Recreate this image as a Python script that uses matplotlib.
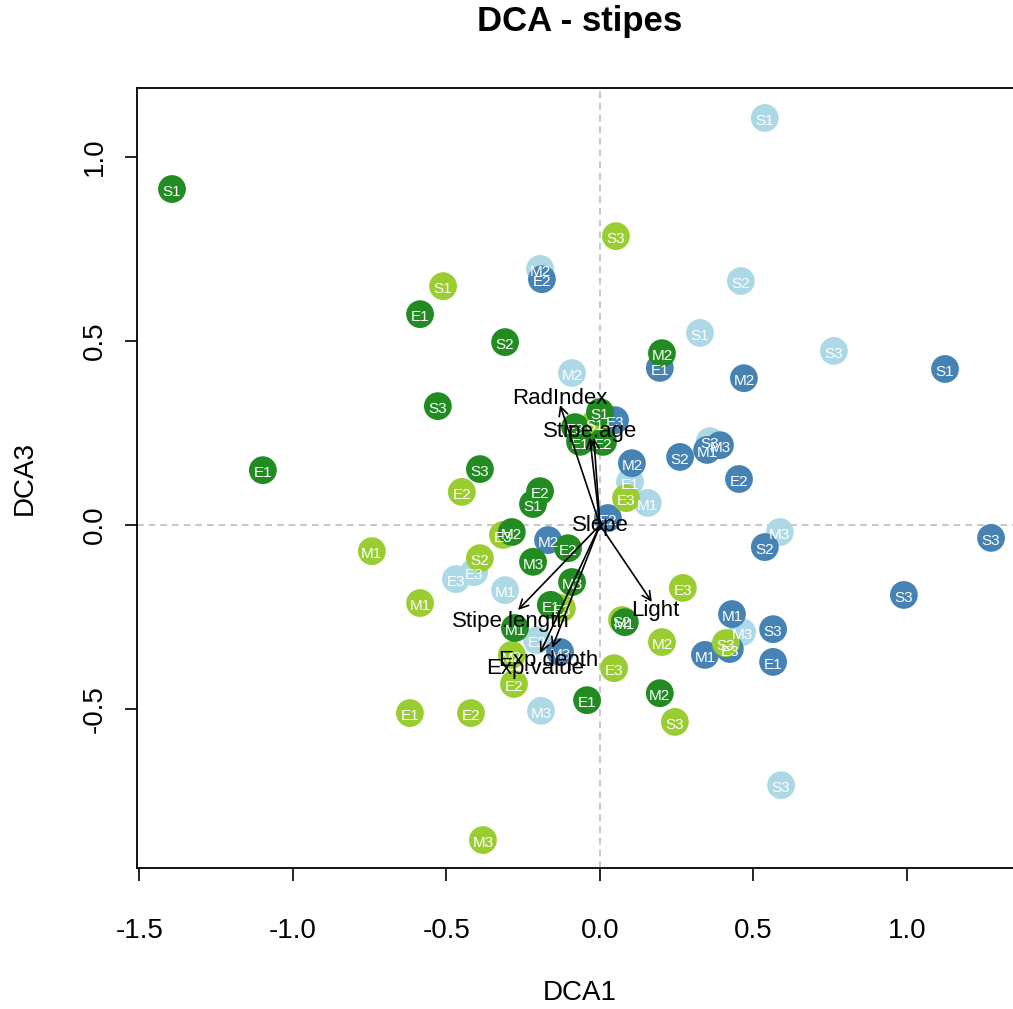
import numpy as np
import matplotlib

matplotlib.use("Agg")
import matplotlib.pyplot as plt

plt.rcParams["font.family"] = ["Liberation Sans", "DejaVu Sans"]

# ----------------------------------------------------------------------
# Site scores (DCA1, DCA3) per group
# ----------------------------------------------------------------------

lb_x = [0.537, 0.459, -0.195, 0.326, 0.762, -0.091, 0.358, 0.098, 0.156,
        0.586, -0.469, -0.410, -0.309, -0.205, -0.192, 0.463, 0.590]
lb_y = [1.106, 0.663, 0.696, 0.522, 0.473, 0.413, 0.228, 0.117, 0.060,
        -0.019, -0.147, -0.128, -0.177, -0.313, -0.505, -0.291, -0.707]
lb_lab = ["S1", "S2", "M2", "S1", "S3", "M2", "S3", "E1", "M1",
          "M3", "E3", "E3", "M1", "E2", "M3", "M3", "S3"]

sb_x = [-0.189, 0.195, 0.469, 1.124, 0.261, 0.349, 0.391, 0.104, 0.453,
        0.026, -0.169, 0.537, 1.274, 0.990, 0.430, 0.564, 0.342, 0.423,
        0.564, -0.130, 0.049]
sb_y = [0.668, 0.427, 0.399, 0.424, 0.185, 0.204, 0.217, 0.168, 0.125,
        0.019, -0.041, -0.060, -0.035, -0.190, -0.242, -0.283, -0.353,
        -0.337, -0.372, -0.345, 0.285]
sb_lab = ["E2", "E1", "M2", "S1", "S2", "M1", "M3", "M2", "E2",
          "E2", "M2", "S2", "S3", "S3", "M1", "S3", "M1", "E3",
          "E1", "M3", "E3"]

yg_x = [-0.511, 0.052, -0.450, -0.743, -0.391, -0.586, -0.619, -0.420,
        -0.381, -0.280, -0.287, 0.046, 0.270, 0.202, 0.244, 0.410, 0.085,
        -0.016, -0.316, -0.124, 0.072]
yg_y = [0.649, 0.785, 0.090, -0.071, -0.090, -0.212, -0.511, -0.511,
        -0.856, -0.432, -0.353, -0.389, -0.171, -0.318, -0.535, -0.321,
        0.073, 0.277, -0.027, -0.226, -0.258]
yg_lab = ["S1", "S3", "E2", "M1", "S2", "M1", "E1", "E2",
          "M3", "E2", "M2", "E3", "E3", "M2", "S3", "S3", "E3",
          "S1", "E3", "E3", "S2"]

fg_x = [-1.394, -1.098, -0.586, -0.309, -0.528, -0.391, -0.195, -0.218,
        -0.287, -0.104, -0.218, -0.091, -0.160, -0.277, 0.081, -0.042,
        0.195, 0.202, 0.000, -0.081, -0.065, 0.010]
fg_y = [0.913, 0.149, 0.573, 0.497, 0.323, 0.152, 0.092, 0.057,
        -0.019, -0.063, -0.100, -0.155, -0.217, -0.280, -0.264, -0.476,
        -0.457, 0.467, 0.307, 0.266, 0.226, 0.226]
fg_lab = ["S1", "E1", "E1", "S2", "S3", "S3", "E2", "S1",
          "M2", "E2", "M3", "M3", "E1", "M1", "M1", "E1",
          "M2", "M2", "S1", "E3", "E1", "E2"]

# ----------------------------------------------------------------------
# Fitted environmental vectors
# ----------------------------------------------------------------------

vec_names = ["RadIndex", "Stipe.age", "", "Slope", "Light",
             "Stipe.length", "Exp.depth", "Exp.value"]
vec_x = [-0.130, -0.033, -0.020, 0.016, 0.169, -0.267, -0.156, -0.195]
vec_y = [0.326, 0.237, 0.237, 0.006, -0.209, -0.231, -0.334, -0.348]
lab_x = [-0.130, -0.033, -0.020, 0.000, 0.179, -0.290, -0.169, -0.212]
lab_y = [0.345, 0.253, 0.253, 0.000, -0.231, -0.261, -0.367, -0.389]

GROUPS = [
    (lb_x, lb_y, lb_lab, "#ADD8E6"),
    (sb_x, sb_y, sb_lab, "#4682B4"),
    (yg_x, yg_y, yg_lab, "#9ACD32"),
    (fg_x, fg_y, fg_lab, "#228B22"),
]

XLIM = (-1.508, 1.378)
YLIM = (-0.932, 1.1875)


def main():
    W, H = 1013, 1009
    fig = plt.figure(figsize=(W / 100, H / 100), dpi=100)
    px_per_x = 307.0
    left = 137 / W
    bottom = (H - 868) / H
    width = (XLIM[1] - XLIM[0]) * px_per_x / W
    height = (868 - 88) / H
    ax = fig.add_axes([left, bottom, width, height])

    ax.axhline(0, color="#BEBEBE", linestyle=(0, (4, 3)), linewidth=1.2,
               zorder=1)
    ax.axvline(0, color="#BEBEBE", linestyle=(0, (4, 3)), linewidth=1.2,
               zorder=1)

    for gx, gy, _, col in GROUPS:
        ax.scatter(gx, gy, s=400, color=col, edgecolors="none", zorder=2)
    for gx, gy, gl, _ in GROUPS:
        for x, y, t in zip(gx, gy, gl):
            ax.text(x, y - 0.008, t, color="white", fontsize=11,
                    ha="center", va="center", zorder=3)

    for vx, vy, lx, ly, name in zip(vec_x, vec_y, lab_x, lab_y, vec_names):
        ax.annotate("", xy=(vx, vy), xytext=(0, 0),
                    arrowprops=dict(arrowstyle="->", color="black",
                                    lw=1.2, mutation_scale=16,
                                    shrinkA=0, shrinkB=0),
                    zorder=4)
        if name:
            ax.text(lx, ly, name, fontsize=16, ha="center", va="center",
                    zorder=5)

    ax.set_xlim(*XLIM)
    ax.set_ylim(*YLIM)
    ax.set_xticks([-1.5, -1.0, -0.5, 0.0, 0.5, 1.0])
    ax.set_yticks([-0.5, 0.0, 0.5, 1.0])
    ax.set_xticklabels(["-1.5", "-1.0", "-0.5", "0.0", "0.5", "1.0"])
    ax.set_yticklabels(["-0.5", "0.0", "0.5", "1.0"], rotation=90,
                       va="center")
    ax.tick_params(axis="both", direction="out", length=9, width=1.2,
                   labelsize=20)
    ax.tick_params(axis="x", pad=27)
    ax.tick_params(axis="y", pad=12)
    for sp in ax.spines.values():
        sp.set_linewidth(1.3)

    ax.set_xlabel("DCA1", fontsize=20)
    ax.set_ylabel("DCA3", fontsize=20)
    ax.xaxis.set_label_coords(580 / W, 1 - 993 / H,
                              transform=fig.transFigure)
    ax.yaxis.set_label_coords(25 / W, 1 - 478 / H,
                              transform=fig.transFigure)
    ax.xaxis.label.set_va("center")
    ax.yaxis.label.set_va("center")
    fig.text(580 / W, 1 - 22 / H, "DCA - stipes", fontsize=25,
             fontweight="bold", ha="center", va="center")

    fig.savefig("out.png", dpi=100)
    plt.close(fig)


if __name__ == "__main__":
    main()
